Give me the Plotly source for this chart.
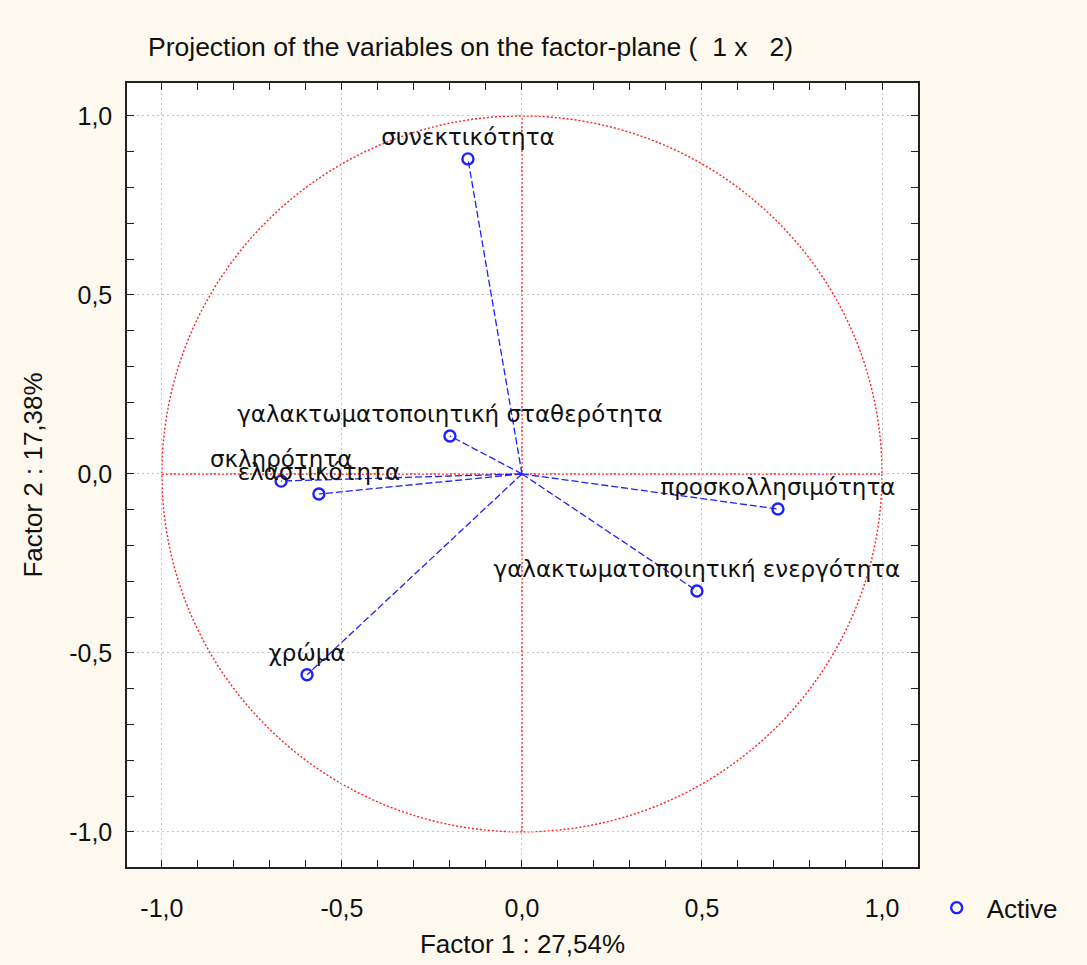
import plotly.graph_objects as go

# Factor loadings of the variables on factors 1 and 2
variables = [
    "συνεκτικότητα",
    "γαλακτωματοποιητική σταθερότητα",
    "σκληρότητα",
    "ελαστικότητα",
    "προσκολλησιμότητα",
    "γαλακτωματοποιητική ενεργότητα",
    "χρώμα",
]
factor1 = [-0.150, -0.200, -0.669, -0.564, 0.711, 0.486, -0.597]
factor2 = [0.880, 0.106, -0.020, -0.056, -0.098, -0.327, -0.561]

tick_vals = [-1.0, -0.5, 0.0, 0.5, 1.0]
tick_text = ["-1,0", "-0,5", "0,0", "0,5", "1,0"]

x_title = "Factor 1 : 27,54%"
y_title = "Factor 2 : 17,38%"
chart_title = "Projection of the variables on the factor-plane (  1 x   2)"

BLUE = "#1f1fff"
RED = "#ff2020"
PAPER = "#fdf9ee"
TXT = "#111111"

# vectors from the origin to each variable
vx, vy = [], []
for a, b in zip(factor1, factor2):
    vx += [0, a, None]
    vy += [0, b, None]

fig = go.Figure()

fig.add_trace(go.Scatter(
    x=vx, y=vy, mode="lines",
    line=dict(color=BLUE, width=1.3, dash="7px,3px"),
    showlegend=False, hoverinfo="skip",
))

fig.add_trace(go.Scatter(
    x=factor1, y=factor2, mode="markers+text",
    name="Active",
    text=variables, textposition="top center",
    textfont=dict(family="DejaVu Sans", size=23, color=TXT),
    marker=dict(symbol="circle-open", size=11, color=BLUE, line=dict(width=2.4, color=BLUE)),
))

# unit circle and the red reference axes
red_dots = dict(color=RED, width=1.4, dash="2px,2px")
fig.add_shape(type="circle", xref="x", yref="y", x0=-1, y0=-1, x1=1, y1=1,
              line=red_dots, layer="below")
fig.add_shape(type="line", xref="x", yref="y", x0=-1, y0=0, x1=1, y1=0,
              line=red_dots, layer="below")
fig.add_shape(type="line", xref="x", yref="y", x0=0, y0=-1, x1=0, y1=1,
              line=red_dots, layer="below")

axis_common = dict(
    tickvals=tick_vals, ticktext=tick_text,
    ticks="inside", ticklen=7, tickwidth=1, tickcolor="#222222",
    minor=dict(dtick=0.1, ticks="inside", ticklen=7, tickwidth=1, tickcolor="#222222", showgrid=False),
    showline=True, linecolor="#222222", linewidth=1.5, mirror="allticks",
    showgrid=True, gridcolor="#c4c4c4", griddash="2px,3px", gridwidth=1,
    zeroline=False,
    tickfont=dict(family="Liberation Sans", size=25, color=TXT),
    title_font=dict(family="Liberation Sans", size=26, color=TXT),
)

fig.update_xaxes(range=[-1.097, 1.1], title_text=x_title, title_standoff=14,
                 ticklabelstandoff=18, **axis_common)
fig.update_yaxes(range=[-1.098, 1.092], title_text=y_title, title_standoff=19,
                 ticklabelstandoff=8, **axis_common)

fig.update_layout(
    width=1087, height=965,
    margin=dict(l=127, r=169, t=83, b=98),
    paper_bgcolor=PAPER, plot_bgcolor="white",
    title=dict(text=chart_title, x=148 / 1087, xanchor="left", y=1 - 47 / 965, yanchor="middle",
               font=dict(family="Liberation Sans", size=26.5, color=TXT)),
    legend=dict(x=1.011, y=-0.052, xanchor="left", yanchor="middle", bgcolor="rgba(0,0,0,0)",
                itemwidth=50,
                font=dict(family="Liberation Sans", size=26, color=TXT)),
    showlegend=True,
)

fig.write_html("out.html")
